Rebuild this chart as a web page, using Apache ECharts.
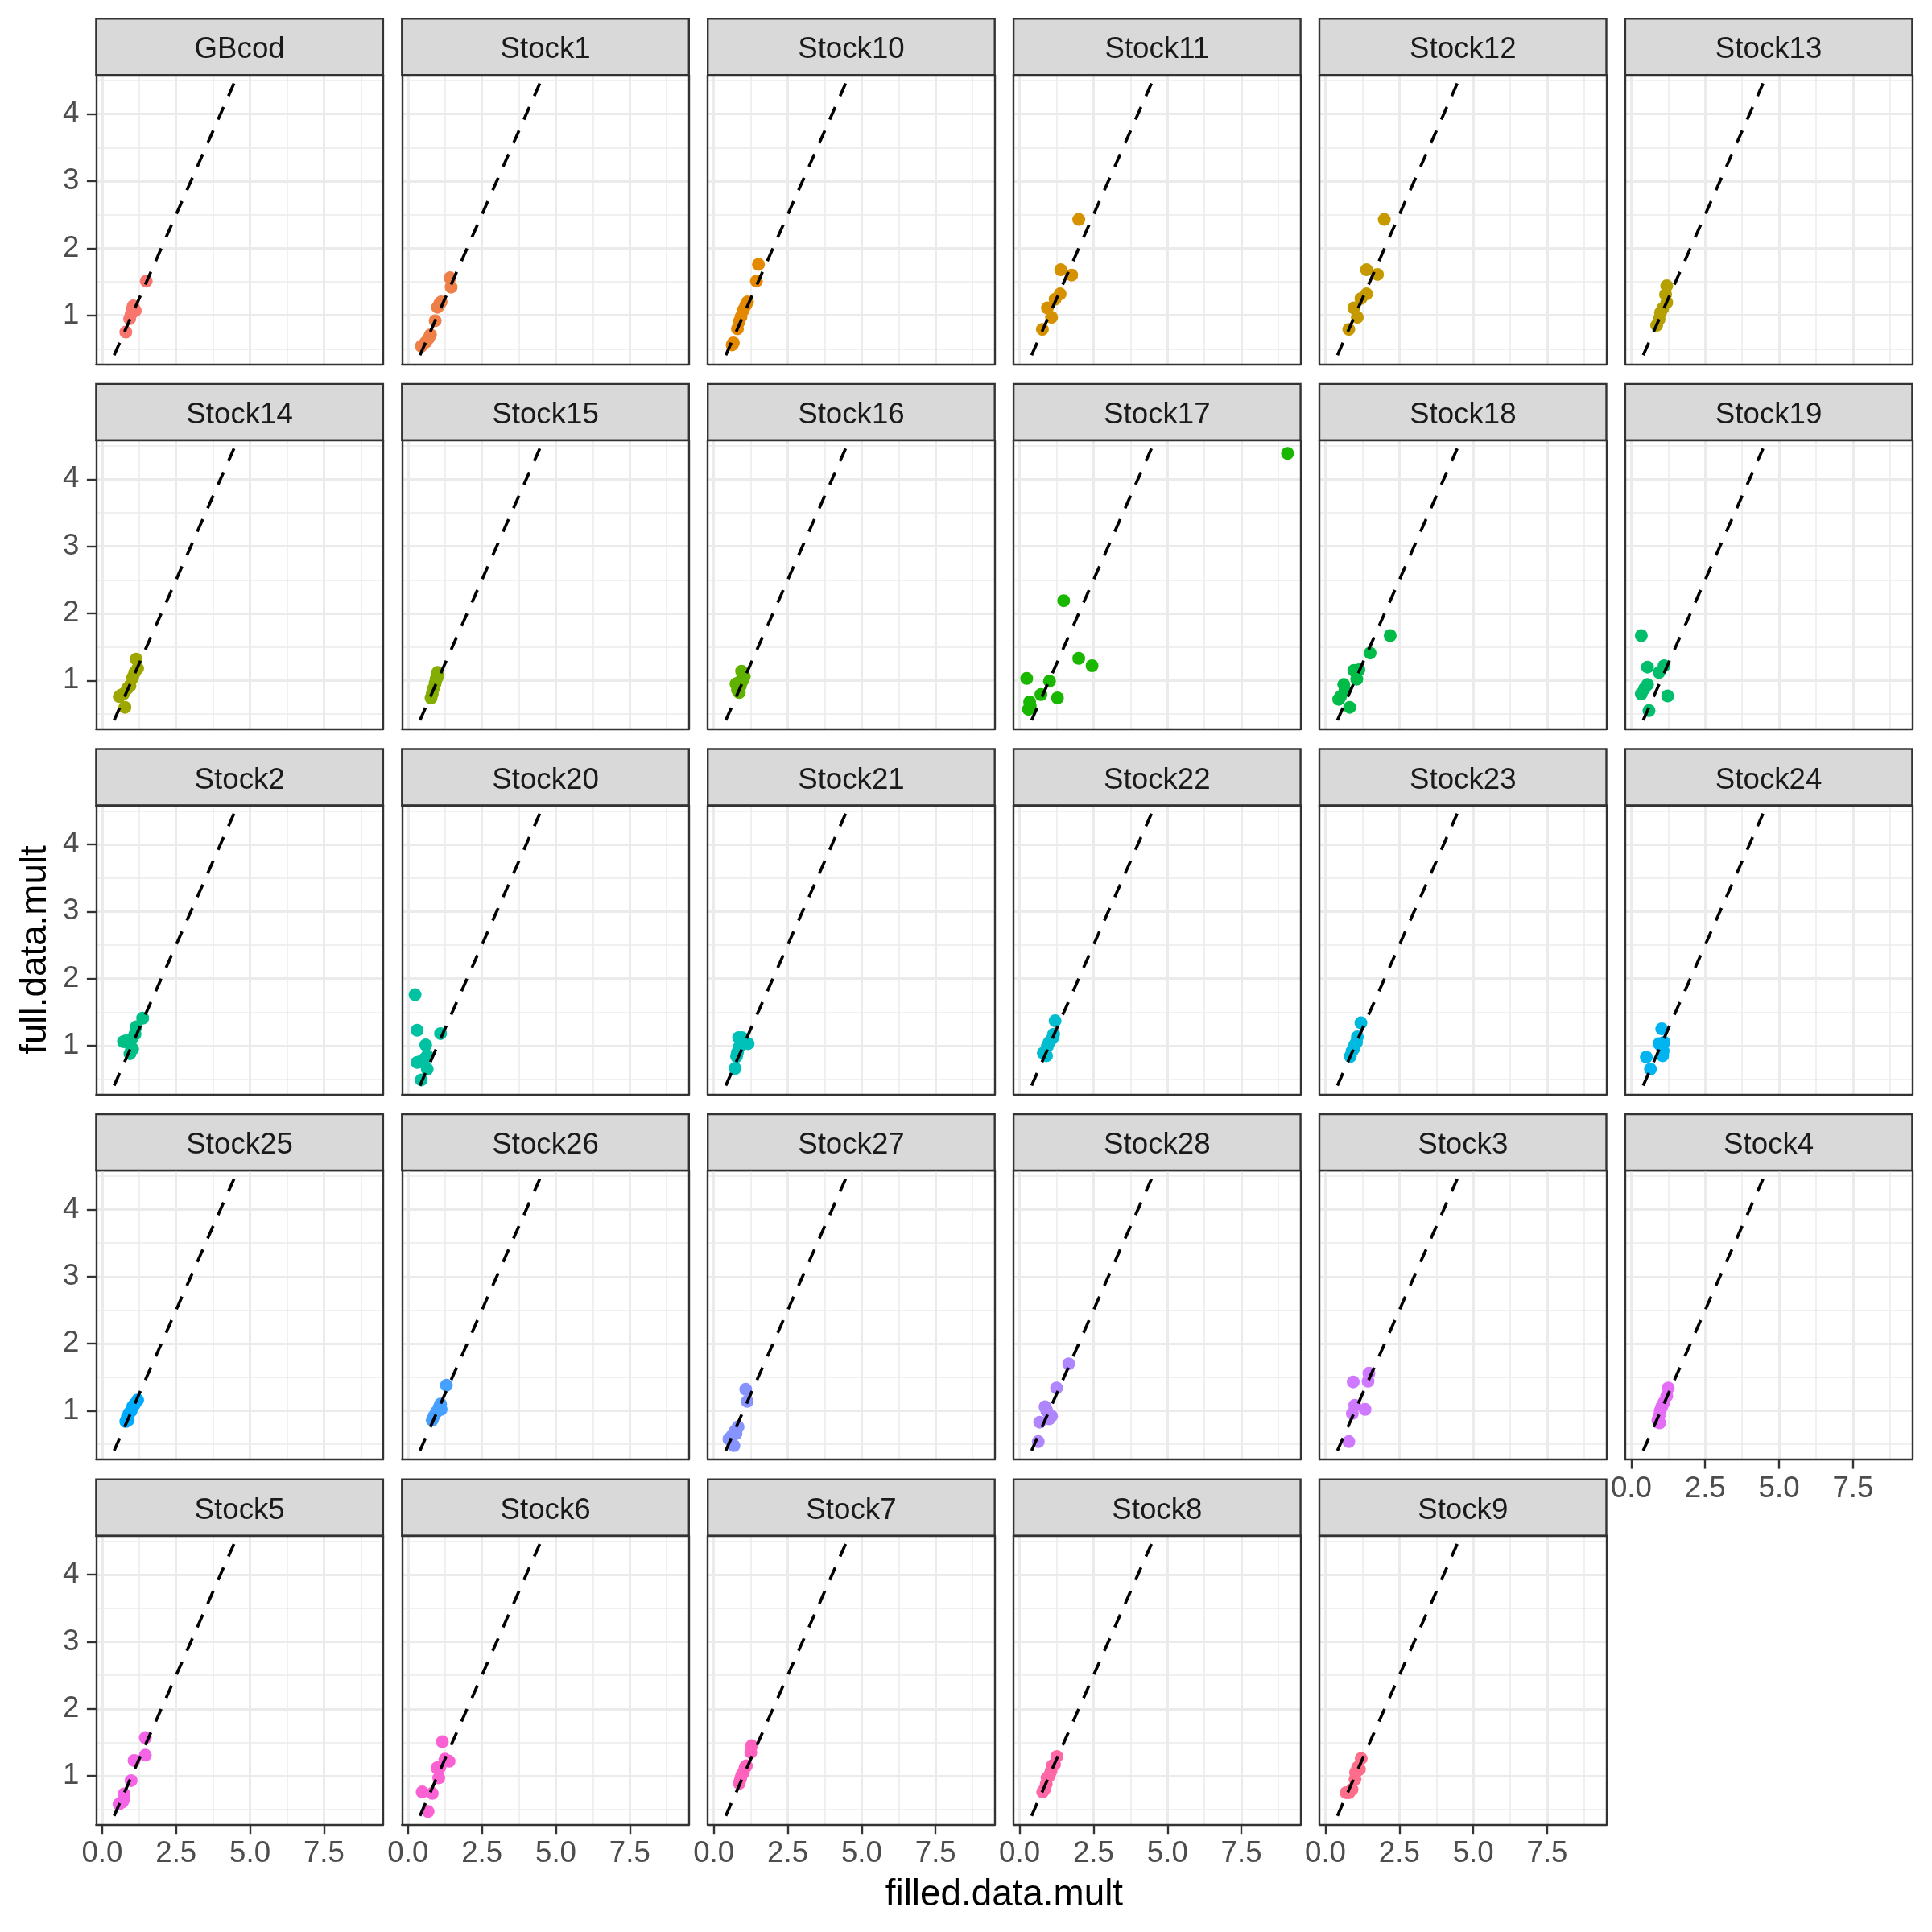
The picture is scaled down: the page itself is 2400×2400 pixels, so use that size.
<!DOCTYPE html>
<html><head><meta charset="utf-8">
<script src="https://cdn.jsdelivr.net/npm/echarts@6/dist/echarts.min.js"></script>
<style>html,body{margin:0;padding:0;background:#fff}#c{width:2400px;height:2400px}</style>
</head><body><div id="c"></div>
<script>
// ---- data (filled.data.mult, full.data.mult) per facet ----
const panelNames = ["GBcod","Stock1","Stock10","Stock11","Stock12","Stock13","Stock14","Stock15","Stock16","Stock17","Stock18","Stock19","Stock2","Stock20","Stock21","Stock22","Stock23","Stock24","Stock25","Stock26","Stock27","Stock28","Stock3","Stock4","Stock5","Stock6","Stock7","Stock8","Stock9"];
const GBcod = [[0.80,0.75],[0.93,0.95],[0.98,1.02],[1.05,1.14],[1.12,1.07],[1.02,1.09],[1.49,1.51]];
const Stock1 = [[0.45,0.54],[0.60,0.60],[0.70,0.66],[0.76,0.71],[0.92,0.92],[1.00,1.12],[1.08,1.18],[1.12,1.20],[1.42,1.56],[1.46,1.42]];
const Stock10 = [[0.62,0.56],[0.66,0.59],[0.80,0.80],[0.85,0.90],[0.92,0.98],[1.00,1.08],[1.08,1.15],[1.14,1.20],[1.44,1.51],[1.51,1.76]];
const Stock11 = [[0.77,0.79],[0.94,1.11],[1.08,0.97],[1.20,1.24],[1.37,1.32],[1.39,1.68],[1.76,1.60],[2.00,2.43]];
const Stock12 = [[0.79,0.79],[0.96,1.11],[1.08,0.97],[1.20,1.25],[1.39,1.32],[1.39,1.68],[1.76,1.61],[1.99,2.43]];
const Stock13 = [[0.86,0.85],[0.94,0.94],[0.99,1.04],[1.06,1.10],[1.20,1.19],[1.16,1.31],[1.20,1.44]];
const Stock14 = [[0.58,0.76],[0.63,0.78],[0.72,0.80],[0.77,0.60],[0.85,0.88],[0.94,0.92],[1.03,1.04],[1.10,1.12],[1.20,1.18],[1.15,1.32]];
const Stock15 = [[0.78,0.74],[0.82,0.80],[0.86,0.88],[0.92,0.96],[0.98,1.04],[1.02,1.08],[1.00,1.12],[0.95,1.02]];
const Stock16 = [[0.75,0.95],[0.80,0.86],[0.86,0.82],[0.90,0.92],[0.94,1.14],[1.03,1.06],[0.98,1.00],[0.88,0.98]];
const Stock17 = [[0.24,1.03],[0.30,0.57],[0.34,0.68],[0.36,0.62],[0.72,0.79],[1.01,0.99],[1.28,0.74],[1.49,2.19],[2.00,1.33],[2.45,1.22],[9.06,4.385]];
const Stock18 = [[0.45,0.72],[0.51,0.76],[0.62,0.94],[0.66,0.85],[0.82,0.60],[0.96,1.15],[1.06,1.02],[1.13,1.16],[1.51,1.41],[2.19,1.67]];
const Stock19 = [[0.34,1.67],[0.55,1.20],[1.11,1.22],[0.94,1.12],[0.55,0.94],[0.45,0.88],[0.34,0.80],[1.23,0.77],[0.60,0.55]];
const Stock2 = [[0.72,1.06],[0.80,1.07],[0.94,1.02],[1.03,0.95],[0.94,0.88],[1.00,1.10],[1.11,1.17],[1.15,1.28],[1.37,1.41]];
const Stock20 = [[0.24,1.76],[0.31,1.23],[1.10,1.18],[0.60,1.01],[0.65,0.85],[0.55,0.80],[0.31,0.75],[0.40,0.76],[0.65,0.65],[0.45,0.49]];
const Stock21 = [[0.84,1.12],[0.95,1.12],[1.16,1.03],[1.05,1.05],[0.86,0.98],[0.77,0.84],[0.80,0.90],[0.72,0.66]];
const Stock22 = [[0.80,0.89],[0.91,0.85],[0.86,0.90],[0.94,0.99],[1.00,1.05],[1.11,1.11],[1.15,1.17],[1.20,1.37]];
const Stock23 = [[0.84,0.84],[0.90,0.92],[0.95,0.95],[0.99,1.01],[1.05,1.05],[1.08,1.13],[1.20,1.34]];
const Stock24 = [[0.51,0.83],[0.65,0.65],[0.94,1.03],[1.11,1.05],[1.06,0.85],[1.03,1.25],[1.00,1.00],[1.08,0.92]];
const Stock25 = [[0.80,0.84],[0.85,0.90],[0.88,0.86],[0.91,0.96],[0.98,1.00],[1.03,1.06],[1.10,1.10],[1.20,1.16]];
const Stock26 = [[0.82,0.86],[0.88,0.92],[0.96,0.98],[1.05,1.05],[1.12,1.02],[1.10,1.10],[1.30,1.38]];
const Stock27 = [[0.51,0.58],[0.60,0.62],[0.68,0.48],[0.72,0.70],[0.75,0.66],[0.82,0.76],[1.08,1.32],[1.13,1.14]];
const Stock28 = [[0.63,0.54],[0.68,0.83],[0.86,1.06],[0.92,1.00],[1.00,0.88],[1.08,0.92],[1.25,1.34],[1.66,1.70]];
const Stock3 = [[0.79,0.54],[0.91,0.96],[0.99,1.08],[1.34,1.02],[0.94,1.43],[1.44,1.44],[1.47,1.56]];
const Stock4 = [[0.90,0.86],[0.96,0.82],[0.94,0.92],[0.98,1.00],[1.03,1.06],[1.10,1.12],[1.20,1.22],[1.25,1.34]];
const Stock5 = [[0.57,0.58],[0.68,0.61],[0.72,0.64],[0.74,0.73],[0.98,0.93],[1.08,1.23],[1.46,1.31],[1.46,1.57]];
const Stock6 = [[0.48,0.76],[0.68,0.47],[0.82,0.74],[1.04,0.97],[0.98,1.12],[1.08,1.13],[1.25,1.25],[1.39,1.22],[1.16,1.51]];
const Stock7 = [[0.86,0.89],[0.90,0.95],[0.94,1.01],[1.00,1.05],[1.06,1.13],[1.10,1.15],[1.25,1.35],[1.28,1.45]];
const Stock8 = [[0.78,0.76],[0.84,0.80],[0.90,0.88],[0.93,0.97],[1.00,1.00],[1.06,1.07],[1.10,1.15],[1.18,1.17],[1.26,1.29]];
const Stock9 = [[0.70,0.75],[0.80,0.75],[0.90,0.80],[1.00,0.95],[1.02,1.05],[1.09,1.13],[1.15,1.10],[1.21,1.26]];
const panelData = [GBcod,Stock1,Stock10,Stock11,Stock12,Stock13,Stock14,Stock15,Stock16,Stock17,Stock18,Stock19,Stock2,Stock20,Stock21,Stock22,Stock23,Stock24,Stock25,Stock26,Stock27,Stock28,Stock3,Stock4,Stock5,Stock6,Stock7,Stock8,Stock9];
// identity reference line y = x
const refLine = [[-1,-1],[11,11]];
// axis ticks
const xMajor = [0, 2.5, 5, 7.5];
const xMinor = [1.25, 3.75, 6.25, 8.75];
const yMajor = [1, 2, 3, 4];
const yMinor = [0.5, 1.5, 2.5, 3.5, 4.5];
const xRange = [-0.204, 9.50];
const yRange = [0.273, 4.581];
const xTitle = "filled.data.mult";
const yTitle = "full.data.mult";

// ---- ggplot2 default hue palette (hcl, c=100, l=65) ----
function hcl(h, c, l) {
  const WX=95.047, WY=100, WZ=108.883, Wu=0.1978398, Wv=0.4683363;
  const hr=h*Math.PI/180, U=c*Math.cos(hr), V=c*Math.sin(hr);
  const Y=WY*(l>7.999592?Math.pow((l+16)/116,3):l/903.3);
  const u=U/(13*l)+Wu, v=V/(13*l)+Wv;
  const X=9*Y*u/(4*v), Z=-X/3-5*Y+3*Y/v;
  const g=x=>x>0.00304?1.055*Math.pow(x,1/2.4)-0.055:12.92*x;
  const cl=x=>Math.round(255*Math.min(1,Math.max(0,x)));
  const r=cl(g((3.240479*X-1.537150*Y-0.498535*Z)/WY));
  const gg=cl(g((-0.969256*X+1.875992*Y+0.041556*Z)/WY));
  const b=cl(g((0.055648*X-0.204043*Y+1.057311*Z)/WY));
  return '#'+[r,gg,b].map(x=>x.toString(16).padStart(2,'0')).join('');
}
const N = panelNames.length;
const colors = panelNames.map((_, i) => hcl(15 + 360*i/N, 100, 65));

// ---- layout ----
const FONT = "'Liberation Sans', Arial, sans-serif";
const colLeft0 = 119.4, colStep = 379.9, panelW = 356.5;
const rowTop0 = 23.3, rowStep = 453.6, stripH = 70, plotH = 359;
const border = '#333333', gridCol = '#EBEBEB';
const LW = 2.4, LWgrid = 3, LWminor = 1.5;

const grids = [], xAxes = [], yAxes = [], series = [], graphics = [];
panelNames.forEach((name, i) => {
  const r = Math.floor(i / 6), c = i % 6;
  const left = colLeft0 + c * colStep, stripTop = rowTop0 + r * rowStep, top = stripTop + stripH;
  grids.push({ left, top, width: panelW, height: plotH, show: false });
  const showX = (r === 4) || (i === 23);
  const showY = c === 0;
  xAxes.push({
    gridIndex: i, type: 'value', position: 'bottom', min: xRange[0], max: xRange[1],
    axisLine: { show: true, onZero: false, lineStyle: { color: border, width: LW } },
    axisTick: { show: showX, customValues: xMajor, length: 11.5, lineStyle: { color: border, width: LW } },
    axisLabel: { show: showX, customValues: xMajor, margin: 18, fontSize: 36.7, color: '#4D4D4D', fontFamily: FONT, formatter: v => v.toFixed(1) },
    splitLine: { show: true, lineStyle: { color: gridCol, width: LWgrid } }
  });
  xAxes.push({
    gridIndex: i, type: 'value', position: 'top', min: xRange[0], max: xRange[1],
    axisLine: { show: true, onZero: false, lineStyle: { color: border, width: LW } },
    axisTick: { show: false, customValues: xMinor },
    axisLabel: { show: false, customValues: xMinor },
    splitLine: { show: true, lineStyle: { color: gridCol, width: LWminor } }
  });
  yAxes.push({
    gridIndex: i, type: 'value', position: 'left', min: yRange[0], max: yRange[1],
    axisLine: { show: true, onZero: false, lineStyle: { color: border, width: LW } },
    axisTick: { show: showY, customValues: yMajor, length: 11.5, lineStyle: { color: border, width: LW } },
    axisLabel: { show: showY, customValues: yMajor, margin: 21, fontSize: 36.7, color: '#4D4D4D', fontFamily: FONT },
    splitLine: { show: true, lineStyle: { color: gridCol, width: LWgrid } }
  });
  yAxes.push({
    gridIndex: i, type: 'value', position: 'right', min: yRange[0], max: yRange[1],
    axisLine: { show: true, onZero: false, lineStyle: { color: border, width: LW } },
    axisTick: { show: false, customValues: yMinor },
    axisLabel: { show: false, customValues: yMinor },
    splitLine: { show: true, lineStyle: { color: gridCol, width: LWminor } }
  });
  series.push({
    type: 'scatter', xAxisIndex: 2*i, yAxisIndex: 2*i, data: panelData[i],
    symbol: 'circle', symbolSize: 16, itemStyle: { color: colors[i], opacity: 1 }, z: 2, silent: true
  });
  series.push({
    type: 'line', xAxisIndex: 2*i, yAxisIndex: 2*i, data: refLine, showSymbol: false, symbol: 'none',
    clip: true, lineStyle: { color: '#000', width: 3.7, type: [17, 15] }, z: 3, silent: true
  });
  graphics.push({
    type: 'rect', shape: { x: left, y: stripTop, width: panelW, height: stripH },
    style: { fill: '#D9D9D9', stroke: border, lineWidth: LW }, silent: true
  });
  graphics.push({
    type: 'text', x: left + panelW / 2, y: stripTop + stripH / 2 + 4,
    style: { text: name, fill: '#1A1A1A', font: '36.7px ' + FONT, textAlign: 'center', textVerticalAlign: 'middle' }, silent: true
  });
});
graphics.push({
  type: 'text', x: colLeft0 + (5 * colStep + panelW) / 2, y: 2354,
  style: { text: xTitle, fill: '#000', font: '45.8px ' + FONT, textAlign: 'center', textVerticalAlign: 'middle' }
});
graphics.push({
  type: 'text', x: 44, y: (rowTop0 + stripH + rowTop0 + 4 * rowStep + stripH + plotH) / 2, rotation: Math.PI / 2,
  style: { text: yTitle, fill: '#000', font: '45.8px ' + FONT, textAlign: 'center', textVerticalAlign: 'middle' }
});

const chart = echarts.init(document.getElementById('c'), null, { renderer: 'canvas', width: 2400, height: 2400 });
chart.setOption({
  animation: false, backgroundColor: '#fff',
  grid: grids, xAxis: xAxes, yAxis: yAxes, series, graphic: graphics
});
</script></body></html>
